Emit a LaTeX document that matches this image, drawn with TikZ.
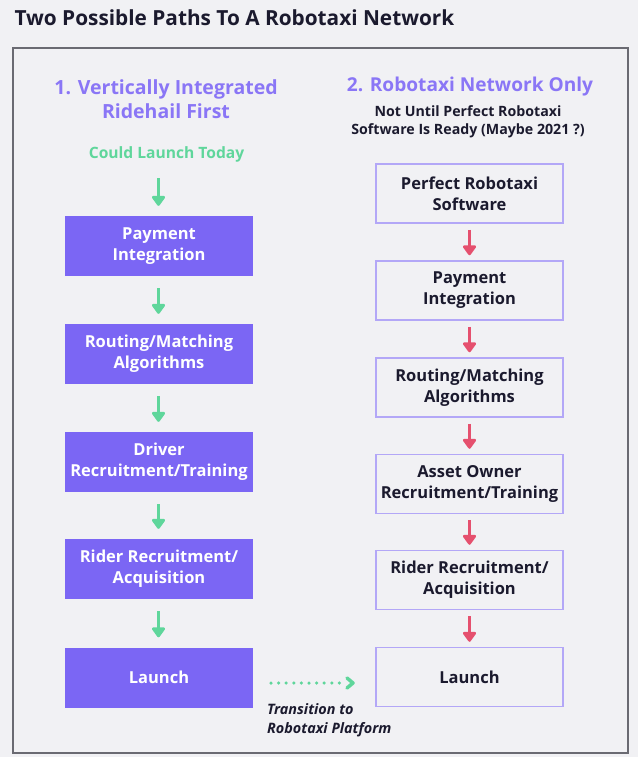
\documentclass[tikz,border=0pt]{standalone}
\usepackage{fontspec}
\setmainfont{Open Sans}
\usetikzlibrary{arrows.meta}
\definecolor{bg}{HTML}{F1F1F4}
\definecolor{purp}{HTML}{7B66F4}
\definecolor{headp}{HTML}{8A76F6}
\definecolor{lpurp}{HTML}{B3A7F7}
\definecolor{grn}{HTML}{5FD69B}
\definecolor{rd}{HTML}{E5506E}
\definecolor{ink}{HTML}{1B1A2E}
\definecolor{frame}{HTML}{6A6A72}
\tikzset{
  fillbox/.style={fill=purp, draw=none, minimum width=188pt, minimum height=60pt, align=center, text=white, font=\fontsize{16.5}{21}\selectfont\bfseries},
  linebox/.style={fill=bg, draw=lpurp, line width=1.5pt, minimum width=187pt, minimum height=59pt, align=center, text=ink, font=\fontsize{16.5}{21}\selectfont\bfseries},
  garrow/.style={draw=grn, line width=3pt, -{Triangle[width=15pt,length=11pt,round]}},
  rarrow/.style={draw=rd, line width=3pt, -{Triangle[width=15pt,length=11pt,round]}},
  heading/.style={text=headp, font=\fontsize{19.5}{24}\selectfont\bfseries, align=center},
}
\begin{document}
\begin{tikzpicture}[x=1pt,y=-1pt]
\useasboundingbox[fill=bg] (0,0) rectangle (638,757);
\node[anchor=west, text=ink, font=\fontsize{20.8}{25}\selectfont\bfseries] (title) at (11,18) {Two Possible Paths To A Robotaxi Network};
\draw[frame, line width=1.2pt] (13,48) rectangle (628,753);
% left column
\node[heading] (h1) at (166,99) {1. Vertically Integrated\\Ridehail First};
\node[text=grn, font=\fontsize{15.6}{18}\selectfont\bfseries] (today) at (166.5,154) {Could Launch Today};
\coordinate (a0) at (158.5,178);
\node[fillbox] (l1) at (159,246) {Payment\\Integration};
\node[fillbox] (l2) at (159,354) {Routing/Matching\\Algorithms};
\node[fillbox] (l3) at (159,462) {Driver\\Recruitment/Training};
\node[fillbox] (l4) at (159,569) {Rider Recruitment/\\Acquisition};
\node[fillbox] (l5) at (159,677.5) {Launch};
\draw[garrow] (a0) -- ([xshift=-0.5pt,yshift=10pt]l1.north);
\foreach \a/\b in {l1/l2,l2/l3,l3/l4,l4/l5}
  \draw[garrow] ([xshift=-0.5pt,yshift=-12pt]\a.south) -- ([xshift=-0.5pt,yshift=10pt]\b.north);
% right column
\node[heading, font=\fontsize{19.1}{24}\selectfont\bfseries] (h2) at (470,87) {2. Robotaxi Network Only};
\node[text=ink, font=\fontsize{14.2}{18}\selectfont\bfseries, align=center] (sub) at (468,122) {Not Until Perfect Robotaxi\\Software Is Ready (Maybe 2021 ?)};
\node[linebox] (r1) at (469.5,193.5) {Perfect Robotaxi\\Software};
\node[linebox] (r2) at (469.5,290.5) {Payment\\Integration};
\node[linebox] (r3) at (469.5,387.5) {Routing/Matching\\Algorithms};
\node[linebox] (r4) at (469.5,484) {Asset Owner\\Recruitment/Training};
\node[linebox] (r5) at (469.5,580) {Rider Recruitment/\\Acquisition};
\node[linebox] (r6) at (469.5,677) {Launch};
\foreach \a/\b in {r1/r2,r2/r3,r3/r4,r4/r5,r5/r6}
  \draw[rarrow] ([yshift=-6pt]\a.south) -- ([yshift=5pt]\b.north);
% transition
\coordinate (ts) at (271,683);
\coordinate (te) at (353,683);
\draw[grn, line width=3.5pt, line cap=round, dash pattern=on 0pt off 7.6pt] (ts) -- ([xshift=-8pt]te);
\draw[grn, line width=3.5pt, line cap=round, line join=round] ([xshift=-6pt,yshift=-5pt]te) -- (te) -- ([xshift=-6pt,yshift=5pt]te);
\node[anchor=north west, text=ink, font=\fontsize{14.4}{19}\selectfont\itshape\bfseries, align=left, inner sep=0pt] (tl) at (267,703) {Transition to\\Robotaxi Platform};
\end{tikzpicture}
\end{document}
